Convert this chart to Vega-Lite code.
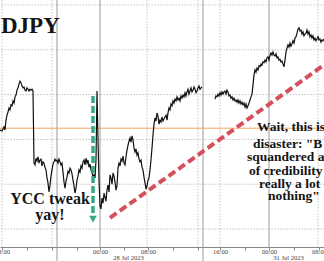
{
"$schema": "https://vega.github.io/schema/vega-lite/v6.json",
"width": 324, "height": 247,
"autosize": {"type": "none"},
"padding": {"left": 0, "top": 0, "right": 0, "bottom": 14},
"background": "white",
"config": {"view": {"stroke": null}},
"resolve": {"axis": {"x": "independent", "y": "independent"}},
"datasets": {
"hgrid": [{"p":138},{"p":139},{"p":140},{"p":141},{"p":142},{"p":143}],
"vgrid": [{"i":0},{"i":50},{"i":145},{"i":196},{"i":218},{"i":316}],
"vsolid": [{"i":55,"top":143.11,"bot":137.29},{"i":98,"top":143.11,"bot":137.6},{"i":201,"top":143.11,"bot":137.29},{"i":267,"top":143.11,"bot":137.6}],
"level": [{"p":140.25}],
"red": [{"i":108,"p":138.25,"i2":322,"p2":141.66}],
"green": [{"i":91,"p":140.97,"p2":138.33}],
"greenhead": [{"i":91,"p":138.22}],
"t1": [{"i":-1,"p":142.37,"t":"DJPY"}],
"t2": [{"i":48,"p":138.56,"t":"YCC tweak\nyay!"}],
"t3": [{"i":255,"p":140.19,"t":"Wait, this is"},{"i":251,"p":139.81,"t":"disaster: \"B"},{"i":245,"p":139.52,"t":"squandered a"},{"i":247,"p":139.2,"t":"of credibility"},{"i":257,"p":138.91,"t":"really a lot"},{"i":266,"p":138.65,"t":"nothing\""}],
"px": [
{"i":-2,"p":140.21,"s":1},{"i":0,"p":140.19,"s":1},{"i":2,"p":140.28,"s":1},{"i":3,"p":140.21,"s":1},{"i":4,"p":140.43,"s":1},{"i":5,"p":140.54,"s":1},{"i":6,"p":140.61,"s":1},{"i":7,"p":140.70,"s":1},{"i":8,"p":140.66,"s":1},{"i":9,"p":140.77,"s":1},{"i":10,"p":140.75,"s":1},{"i":11,"p":140.86,"s":1},{"i":12,"p":140.81,"s":1},{"i":13,"p":140.95,"s":1},{"i":14,"p":140.99,"s":1},{"i":15,"p":141.10,"s":1},{"i":16,"p":141.15,"s":1},{"i":17,"p":141.24,"s":1},{"i":18,"p":141.30,"s":1},{"i":19,"p":141.26,"s":1},{"i":20,"p":141.19,"s":1},{"i":21,"p":141.15,"s":1},{"i":22,"p":141.17,"s":1},{"i":23,"p":141.10,"s":1},{"i":24,"p":141.08,"s":1},{"i":25,"p":141.15,"s":1},{"i":26,"p":141.12,"s":1},{"i":27,"p":141.08,"s":1},{"i":28,"p":141.12,"s":1},{"i":29,"p":141.10,"s":1},{"i":30,"p":141.12,"s":1},{"i":31,"p":141.08,"s":1},
{"i":32,"p":139.47,"s":1},{"i":33,"p":139.43,"s":1},{"i":34,"p":139.58,"s":1},{"i":35,"p":139.52,"s":1},{"i":36,"p":139.61,"s":1},{"i":37,"p":139.47,"s":1},{"i":38,"p":139.54,"s":1},{"i":39,"p":139.56,"s":1},{"i":40,"p":139.41,"s":1},{"i":41,"p":139.50,"s":1},{"i":42,"p":139.47,"s":1},{"i":43,"p":139.38,"s":1},{"i":44,"p":139.32,"s":1},{"i":45,"p":139.14,"s":1},{"i":46,"p":139.03,"s":1},{"i":47,"p":138.83,"s":1},{"i":48,"p":138.98,"s":1},{"i":49,"p":139.18,"s":1},{"i":50,"p":139.32,"s":1},{"i":51,"p":139.45,"s":1},{"i":52,"p":139.50,"s":1},{"i":53,"p":139.56,"s":1},{"i":54,"p":139.52,"s":1},{"i":55,"p":139.54,"s":1},{"i":56,"p":139.47,"s":1},{"i":57,"p":139.56,"s":1},{"i":58,"p":139.50,"s":1},{"i":59,"p":139.43,"s":1},{"i":60,"p":139.47,"s":1},{"i":61,"p":139.27,"s":1},{"i":62,"p":139.05,"s":1},{"i":63,"p":138.91,"s":1},{"i":64,"p":139.07,"s":1},{"i":65,"p":139.16,"s":1},{"i":66,"p":139.29,"s":1},{"i":67,"p":139.25,"s":1},{"i":68,"p":139.36,"s":1},{"i":69,"p":139.32,"s":1},{"i":70,"p":139.23,"s":1},{"i":71,"p":139.09,"s":1},{"i":72,"p":138.96,"s":1},{"i":73,"p":138.80,"s":1},{"i":74,"p":138.91,"s":1},{"i":75,"p":139.09,"s":1},{"i":76,"p":139.18,"s":1},{"i":77,"p":139.32,"s":1},{"i":78,"p":139.27,"s":1},{"i":79,"p":139.41,"s":1},{"i":80,"p":139.36,"s":1},{"i":81,"p":139.50,"s":1},{"i":82,"p":139.54,"s":1},{"i":83,"p":139.43,"s":1},{"i":84,"p":139.58,"s":1},{"i":85,"p":139.47,"s":1},{"i":86,"p":139.54,"s":1},{"i":87,"p":139.38,"s":1},{"i":88,"p":139.45,"s":1},{"i":89,"p":139.32,"s":1},{"i":90,"p":139.25,"s":1},{"i":91,"p":139.18,"s":1},{"i":92,"p":139.21,"s":1},{"i":93,"p":139.14,"s":1},{"i":94,"p":139.54,"s":1},{"i":95,"p":141.08,"s":1},{"i":96,"p":139.99,"s":1},{"i":97,"p":139.09,"s":1},{"i":98,"p":138.51,"s":1},{"i":99,"p":138.45,"s":1},{"i":100,"p":138.69,"s":1},{"i":101,"p":138.58,"s":1},{"i":102,"p":138.80,"s":1},{"i":103,"p":138.71,"s":1},{"i":104,"p":138.62,"s":1},{"i":105,"p":138.87,"s":1},{"i":106,"p":138.98,"s":1},{"i":107,"p":138.83,"s":1},{"i":108,"p":139.21,"s":1},{"i":109,"p":139.14,"s":1},{"i":110,"p":139.00,"s":1},{"i":111,"p":139.25,"s":1},{"i":112,"p":139.18,"s":1},{"i":113,"p":139.05,"s":1},{"i":114,"p":138.87,"s":1},{"i":115,"p":138.96,"s":1},{"i":116,"p":139.36,"s":1},{"i":117,"p":139.47,"s":1},{"i":118,"p":139.41,"s":1},{"i":119,"p":139.56,"s":1},{"i":120,"p":139.52,"s":1},{"i":121,"p":139.63,"s":1},{"i":122,"p":139.47,"s":1},{"i":123,"p":139.43,"s":1},{"i":124,"p":139.61,"s":1},{"i":125,"p":139.76,"s":1},{"i":126,"p":139.87,"s":1},{"i":127,"p":139.96,"s":1},{"i":128,"p":140.03,"s":1},{"i":129,"p":139.94,"s":1},{"i":130,"p":140.08,"s":1},{"i":131,"p":139.99,"s":1},{"i":132,"p":139.81,"s":1},{"i":133,"p":139.72,"s":1},{"i":134,"p":139.79,"s":1},{"i":135,"p":139.65,"s":1},{"i":136,"p":139.70,"s":1},{"i":137,"p":139.56,"s":1},{"i":138,"p":139.50,"s":1},{"i":139,"p":139.54,"s":1},{"i":140,"p":139.38,"s":1},{"i":141,"p":139.32,"s":1},{"i":142,"p":139.16,"s":1},{"i":143,"p":139.03,"s":1},{"i":144,"p":138.89,"s":1},{"i":145,"p":138.96,"s":1},{"i":146,"p":139.09,"s":1},{"i":147,"p":139.14,"s":1},{"i":148,"p":139.32,"s":1},{"i":149,"p":139.54,"s":1},{"i":150,"p":139.81,"s":1},{"i":151,"p":140.10,"s":1},{"i":152,"p":140.34,"s":1},{"i":153,"p":140.48,"s":1},{"i":154,"p":140.41,"s":1},{"i":155,"p":140.59,"s":1},{"i":156,"p":140.52,"s":1},{"i":157,"p":140.34,"s":1},{"i":158,"p":140.43,"s":1},{"i":159,"p":140.39,"s":1},{"i":160,"p":140.50,"s":1},{"i":161,"p":140.41,"s":1},{"i":162,"p":140.46,"s":1},{"i":163,"p":140.50,"s":1},{"i":164,"p":140.54,"s":1},{"i":165,"p":140.43,"s":1},{"i":166,"p":140.59,"s":1},{"i":167,"p":140.70,"s":1},{"i":168,"p":140.66,"s":1},{"i":169,"p":140.79,"s":1},{"i":170,"p":140.75,"s":1},{"i":171,"p":140.86,"s":1},{"i":172,"p":140.81,"s":1},{"i":173,"p":140.90,"s":1},{"i":174,"p":140.86,"s":1},{"i":175,"p":140.95,"s":1},{"i":176,"p":140.88,"s":1},{"i":177,"p":140.92,"s":1},{"i":178,"p":140.86,"s":1},{"i":179,"p":140.97,"s":1},{"i":180,"p":140.92,"s":1},{"i":181,"p":140.99,"s":1},{"i":182,"p":140.95,"s":1},{"i":183,"p":141.04,"s":1},{"i":184,"p":140.97,"s":1},{"i":185,"p":141.06,"s":1},{"i":186,"p":141.12,"s":1},{"i":187,"p":141.01,"s":1},{"i":188,"p":141.08,"s":1},{"i":189,"p":141.15,"s":1},{"i":190,"p":141.06,"s":1},{"i":191,"p":141.10,"s":1},{"i":192,"p":141.17,"s":1},{"i":193,"p":141.12,"s":1},{"i":194,"p":141.04,"s":1},{"i":195,"p":141.08,"s":1},{"i":196,"p":141.15,"s":1},{"i":197,"p":141.19,"s":1},{"i":198,"p":141.12,"s":1},{"i":199,"p":141.15,"s":1},{"i":200,"p":141.17,"s":1},
{"i":213,"p":140.90,"s":2},{"i":214,"p":140.97,"s":2},{"i":215,"p":140.95,"s":2},{"i":216,"p":141.01,"s":2},{"i":217,"p":140.97,"s":2},{"i":218,"p":141.04,"s":2},{"i":219,"p":140.99,"s":2},{"i":220,"p":141.06,"s":2},{"i":221,"p":141.01,"s":2},{"i":222,"p":141.06,"s":2},{"i":223,"p":141.08,"s":2},{"i":224,"p":141.01,"s":2},{"i":225,"p":141.10,"s":2},{"i":226,"p":141.06,"s":2},{"i":227,"p":140.97,"s":2},{"i":228,"p":140.99,"s":2},{"i":229,"p":140.92,"s":2},{"i":230,"p":140.95,"s":2},{"i":231,"p":140.88,"s":2},{"i":232,"p":140.92,"s":2},{"i":233,"p":140.86,"s":2},{"i":234,"p":140.88,"s":2},{"i":235,"p":140.83,"s":2},{"i":236,"p":140.88,"s":2},{"i":237,"p":140.81,"s":2},{"i":238,"p":140.86,"s":2},{"i":239,"p":140.79,"s":2},{"i":240,"p":140.83,"s":2},{"i":241,"p":140.77,"s":2},{"i":242,"p":140.81,"s":2},{"i":243,"p":140.72,"s":2},{"i":244,"p":140.79,"s":2},{"i":245,"p":140.70,"s":2},{"i":246,"p":140.75,"s":2},{"i":247,"p":140.81,"s":2},{"i":248,"p":140.88,"s":2},{"i":249,"p":140.95,"s":2},{"i":250,"p":141.01,"s":2},{"i":251,"p":141.21,"s":2},{"i":252,"p":141.44,"s":2},{"i":253,"p":141.55,"s":2},{"i":254,"p":141.50,"s":2},{"i":255,"p":141.59,"s":2},{"i":256,"p":141.55,"s":2},{"i":257,"p":141.64,"s":2},{"i":258,"p":141.62,"s":2},{"i":259,"p":141.68,"s":2},{"i":260,"p":141.66,"s":2},{"i":261,"p":141.73,"s":2},{"i":262,"p":141.71,"s":2},{"i":263,"p":141.77,"s":2},{"i":264,"p":141.73,"s":2},{"i":265,"p":141.82,"s":2},{"i":266,"p":141.84,"s":2},{"i":267,"p":141.77,"s":2},{"i":268,"p":141.88,"s":2},{"i":269,"p":141.93,"s":2},{"i":270,"p":141.88,"s":2},{"i":271,"p":141.95,"s":2},{"i":272,"p":141.88,"s":2},{"i":273,"p":141.86,"s":2},{"i":274,"p":141.91,"s":2},{"i":275,"p":141.82,"s":2},{"i":276,"p":141.84,"s":2},{"i":277,"p":141.77,"s":2},{"i":278,"p":141.79,"s":2},{"i":279,"p":141.73,"s":2},{"i":280,"p":141.75,"s":2},{"i":281,"p":141.68,"s":2},{"i":282,"p":141.62,"s":2},{"i":283,"p":141.77,"s":2},{"i":284,"p":141.95,"s":2},{"i":285,"p":142.04,"s":2},{"i":286,"p":142.11,"s":2},{"i":287,"p":142.06,"s":2},{"i":288,"p":142.15,"s":2},{"i":289,"p":142.08,"s":2},{"i":290,"p":142.13,"s":2},{"i":291,"p":142.20,"s":2},{"i":292,"p":142.15,"s":2},{"i":293,"p":142.26,"s":2},{"i":294,"p":142.29,"s":2},{"i":295,"p":142.37,"s":2},{"i":296,"p":142.46,"s":2},{"i":297,"p":142.49,"s":2},{"i":298,"p":142.42,"s":2},{"i":299,"p":142.44,"s":2},{"i":300,"p":142.35,"s":2},{"i":301,"p":142.40,"s":2},{"i":302,"p":142.31,"s":2},{"i":303,"p":142.35,"s":2},{"i":304,"p":142.37,"s":2},{"i":305,"p":142.44,"s":2},{"i":306,"p":142.35,"s":2},{"i":307,"p":142.40,"s":2},{"i":308,"p":142.29,"s":2},{"i":309,"p":142.33,"s":2},{"i":310,"p":142.26,"s":2},{"i":311,"p":142.31,"s":2},{"i":312,"p":142.22,"s":2},{"i":313,"p":142.26,"s":2},{"i":314,"p":142.20,"s":2},{"i":315,"p":142.24,"s":2},{"i":316,"p":142.29,"s":2},{"i":317,"p":142.22,"s":2},{"i":318,"p":142.24,"s":2},{"i":319,"p":142.17,"s":2},{"i":320,"p":142.22,"s":2},{"i":321,"p":142.20,"s":2},{"i":322,"p":142.24,"s":2}
]
},
"layer": [
{"data": {"name": "hgrid"},
 "mark": {"type": "rule", "color": "#c4c4c4", "strokeDash": [1.5, 1.5], "strokeWidth": 1},
 "encoding": {"y": {"field": "p", "type": "quantitative", "scale": {"domain": [137.6, 143.11], "nice": false, "zero": false}, "axis": null}}},
{"data": {"name": "vgrid"},
 "mark": {"type": "rule", "color": "#c4c4c4", "strokeDash": [1.5, 1.5], "strokeWidth": 1},
 "encoding": {"x": {"field": "i", "type": "quantitative", "scale": {"domain": [-2, 322], "nice": false, "zero": false},
   "axis": {"orient": "bottom", "values": [126, 286], "labelExpr": "datum.value == 126 ? '28 Jul 2023' : '31 Jul 2023'", "title": null, "domain": false, "ticks": false, "grid": false, "labelPadding": 7, "labelFontSize": 6.5, "labelFont": "Liberation Serif", "labelColor": "#444", "labelFlush": false, "labelOverlap": false}}}},
{"data": {"name": "vsolid"},
 "mark": {"type": "rule", "color": "#9a9a9a", "strokeWidth": 1},
 "encoding": {"x": {"field": "i", "type": "quantitative", "scale": {"domain": [-2, 322], "nice": false, "zero": false}, "axis": null},
   "y": {"field": "top", "type": "quantitative", "scale": {"domain": [137.6, 143.11], "nice": false, "zero": false}, "axis": null},
   "y2": {"field": "bot"}}},
{"data": {"name": "level"},
 "mark": {"type": "rule", "color": "#efa862", "strokeWidth": 1},
 "encoding": {"y": {"field": "p", "type": "quantitative", "scale": {"domain": [137.6, 143.11], "nice": false, "zero": false}, "axis": null}}},
{"data": {"name": "px"},
 "mark": {"type": "line", "color": "#111111", "strokeWidth": 1.2},
 "encoding": {"x": {"field": "i", "type": "quantitative", "scale": {"domain": [-2, 322], "nice": false, "zero": false},
   "axis": {"orient": "bottom", "values": [0, 25, 50, 75, 98, 122, 146, 171, 196, 218, 243, 267, 292, 317], "labelExpr": "datum.value == 0 || datum.value == 146 || datum.value == 317 ? '08:00' : (datum.value == 98 || datum.value == 267) ? '00:00' : datum.value == 218 ? '16:00' : ''", "title": null, "grid": false, "domainColor": "#888", "tickColor": "#888", "tickSize": 3, "labelPadding": -2, "labelFontSize": 6.5, "labelFont": "Liberation Serif", "labelColor": "#444", "labelFlush": false, "labelOverlap": false, "labelBound": false}},
   "y": {"field": "p", "type": "quantitative", "scale": {"domain": [137.6, 143.11], "nice": false, "zero": false}, "axis": null},
   "detail": {"field": "s", "type": "nominal"}}},
{"data": {"name": "red"},
 "mark": {"type": "rule", "color": "#d64f5c", "strokeWidth": 4, "strokeDash": [8, 4]},
 "encoding": {"x": {"field": "i", "type": "quantitative", "scale": {"domain": [-2, 322], "nice": false, "zero": false}, "axis": null},
   "y": {"field": "p", "type": "quantitative", "scale": {"domain": [137.6, 143.11], "nice": false, "zero": false}, "axis": null},
   "x2": {"field": "i2"}, "y2": {"field": "p2"}}},
{"data": {"name": "green"},
 "mark": {"type": "rule", "color": "#33a98a", "strokeWidth": 3.5, "strokeDash": [7, 3]},
 "encoding": {"x": {"field": "i", "type": "quantitative", "scale": {"domain": [-2, 322], "nice": false, "zero": false}, "axis": null},
   "y": {"field": "p", "type": "quantitative", "scale": {"domain": [137.6, 143.11], "nice": false, "zero": false}, "axis": null},
   "y2": {"field": "p2"}}},
{"data": {"name": "greenhead"},
 "mark": {"type": "point", "shape": "triangle-down", "filled": true, "color": "#33a98a", "size": 60, "opacity": 1},
 "encoding": {"x": {"field": "i", "type": "quantitative", "scale": {"domain": [-2, 322], "nice": false, "zero": false}, "axis": null},
   "y": {"field": "p", "type": "quantitative", "scale": {"domain": [137.6, 143.11], "nice": false, "zero": false}, "axis": null}}},
{"data": {"name": "t1"},
 "mark": {"type": "text", "font": "Liberation Serif", "fontWeight": "bold", "fontSize": 23, "align": "left", "baseline": "alphabetic", "color": "#141414"},
 "encoding": {"x": {"field": "i", "type": "quantitative", "scale": {"domain": [-2, 322], "nice": false, "zero": false}, "axis": null},
   "y": {"field": "p", "type": "quantitative", "scale": {"domain": [137.6, 143.11], "nice": false, "zero": false}, "axis": null},
   "text": {"field": "t"}}},
{"data": {"name": "t2"},
 "mark": {"type": "text", "font": "Liberation Serif", "fontWeight": "bold", "fontSize": 16, "lineHeight": 16, "lineBreak": "\n", "align": "center", "baseline": "alphabetic", "color": "#141414"},
 "encoding": {"x": {"field": "i", "type": "quantitative", "scale": {"domain": [-2, 322], "nice": false, "zero": false}, "axis": null},
   "y": {"field": "p", "type": "quantitative", "scale": {"domain": [137.6, 143.11], "nice": false, "zero": false}, "axis": null},
   "text": {"field": "t"}}},
{"data": {"name": "t3"},
 "mark": {"type": "text", "font": "Liberation Serif", "fontWeight": "bold", "fontSize": 13.5, "align": "left", "baseline": "alphabetic", "color": "#141414"},
 "encoding": {"x": {"field": "i", "type": "quantitative", "scale": {"domain": [-2, 322], "nice": false, "zero": false}, "axis": null},
   "y": {"field": "p", "type": "quantitative", "scale": {"domain": [137.6, 143.11], "nice": false, "zero": false}, "axis": null},
   "text": {"field": "t"}}}
]
}
